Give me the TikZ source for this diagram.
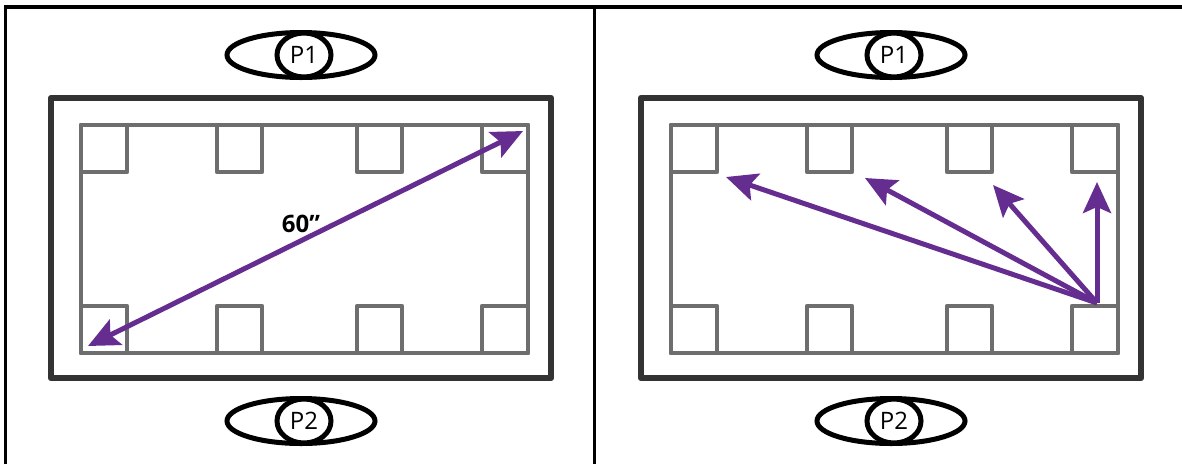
\documentclass[tikz,border=0pt]{standalone}
\usepackage{fontspec}
\setmainfont{Open Sans}
\usetikzlibrary{arrows.meta,shapes.geometric}
\definecolor{pur}{HTML}{662D91}
\definecolor{dk}{HTML}{333333}
\definecolor{gr}{HTML}{6E6E6E}
\tikzset{
  frame/.style={draw=black, line width=3.5pt},
  tablebox/.style={draw=dk, line width=6.5pt, line join=round},
  seat/.style={draw=gr, line width=4.6pt, line join=round, line cap=round},
  eye/.style={ellipse, draw=black, line width=5pt, minimum width=148pt, minimum height=45pt, inner sep=0pt},
  pcirc/.style={ellipse, draw=black, line width=5pt, fill=white, minimum width=54pt, minimum height=44pt, inner sep=0pt, font=\fontsize{24}{24}\selectfont},
  arr/.style={draw=pur, line width=5pt, >={Stealth[length=31pt,width=28pt,inset=6pt]}},
  lbl/.style={font=\fontsize{24}{24}\selectfont\bfseries, inner sep=0pt}
}
\begin{document}
\begin{tikzpicture}[x=1pt,y=-1pt]
\useasboundingbox (0,0) rectangle (1182,464);
% outer frame
\draw[frame] (5.5,464) -- (5.5,7) -- (1182,7);
\draw[frame] (594.5,7) -- (594.5,464);
\foreach \ox/\s in {0/L,590/R}{
  \begin{scope}[xshift=\ox]
    % table
    \draw[tablebox] (51,98) rectangle (551,378);
    \draw[seat] (81,125) rectangle (528,353);
    \foreach \a/\b in {81/127,217/262,357/402,482/528}{
      \draw[seat] (\a,125) rectangle (\b,172);
      \draw[seat] (\a,306) rectangle (\b,353);
    }
    % viewers
    \node[eye] (\s e1) at (301,55) {};
    \node[pcirc] (\s c1) at (304,55) {P1};
    \node[eye] (\s e2) at (301,421) {};
    \node[pcirc] (\s c2) at (304,421) {P2};
  \end{scope}
}
% left panel arrow
\coordinate (la) at (88,346);
\coordinate (lb) at (523,131);
\draw[arr,<->] (la) -- (lb);
\node[lbl] (len) at (301,224) {60”};
% right panel arrows
\coordinate (o) at (1097,303);
\coordinate (t1) at (726,177);
\coordinate (t2) at (865,178);
\coordinate (t3) at (993,185);
\coordinate (t4) at (1097,182);
\draw[arr,->] (o) -- (t1);
\draw[arr,->] (o) -- (t2);
\draw[arr,->] (o) -- (t3);
\draw[arr,->] (o) -- (t4);
\end{tikzpicture}
\end{document}
